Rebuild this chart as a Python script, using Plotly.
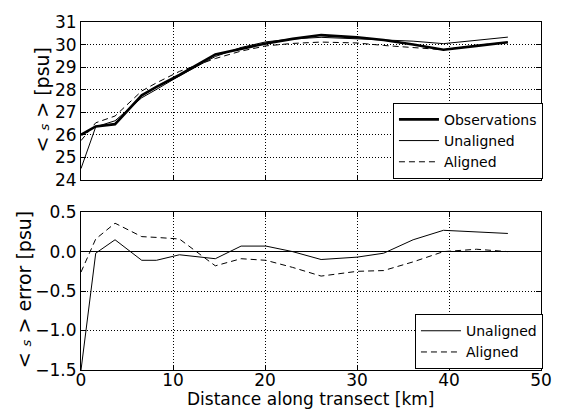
import plotly.graph_objects as go
from plotly.subplots import make_subplots

# Data
distance_km = [0, 1.6, 3.7, 6.6, 8.2, 10.7, 14.6, 17.4, 20.1, 23.0, 26.1, 30.0, 32.9, 36.1, 39.4, 43.0, 46.4]
obs_s = [26.00, 26.37, 26.47, 27.75, 28.12, 28.65, 29.56, 29.80, 30.05, 30.25, 30.42, 30.32, 30.20, 30.00, 29.77, 29.94, 30.10]
unaligned_s = [24.50, 26.35, 26.62, 27.64, 28.01, 28.61, 29.47, 29.87, 30.12, 30.25, 30.32, 30.25, 30.18, 30.15, 30.04, 30.19, 30.33]
aligned_s = [25.74, 26.53, 26.83, 27.94, 28.30, 28.81, 29.38, 29.71, 29.94, 30.05, 30.11, 30.07, 29.96, 29.87, 29.77, 29.97, 30.10]
unaligned_err = [-1.50, -0.02, 0.15, -0.11, -0.11, -0.04, -0.09, 0.07, 0.07, 0.00, -0.10, -0.07, -0.02, 0.15, 0.27, 0.25, 0.23]
aligned_err = [-0.26, 0.16, 0.36, 0.19, 0.18, 0.16, -0.18, -0.09, -0.11, -0.20, -0.31, -0.25, -0.24, -0.13, 0.00, 0.03, 0.00]

FONT = "DejaVu Sans"
W, H = 564, 410
L, R, T, B = 81, 14, 21, 40
ph = H - T - B
pw = W - L - R
top_lo = (H - B - 179.3) / ph
bot_hi = (H - B - 211.7) / ph

fig = make_subplots(rows=2, cols=1, shared_xaxes=False)

fig.add_trace(go.Scatter(x=distance_km, y=obs_s, mode="lines", name="Observations",
                         line=dict(color="black", width=2.6), legend="legend"), row=1, col=1)
fig.add_trace(go.Scatter(x=distance_km, y=unaligned_s, mode="lines", name="Unaligned",
                         line=dict(color="black", width=1), legend="legend"), row=1, col=1)
fig.add_trace(go.Scatter(x=distance_km, y=aligned_s, mode="lines", name="Aligned",
                         line=dict(color="black", width=1, dash="6px,4px"), legend="legend"), row=1, col=1)

fig.add_trace(go.Scatter(x=distance_km, y=unaligned_err, mode="lines", name="Unaligned",
                         line=dict(color="black", width=1), legend="legend2"), row=2, col=1)
fig.add_trace(go.Scatter(x=distance_km, y=aligned_err, mode="lines", name="Aligned",
                         line=dict(color="black", width=1, dash="6px,4px"), legend="legend2"), row=2, col=1)

axis_common = dict(
    showline=True, linecolor="black", linewidth=1, mirror="ticks",
    ticks="inside", ticklen=5, tickcolor="black",
    showgrid=True, gridcolor="black", gridwidth=1, griddash="1px,2px",
    tickfont=dict(family=FONT, size=17, color="black"),
    zeroline=False,
)

fig.update_xaxes(range=[0, 50], dtick=10, **axis_common)
fig.update_xaxes(showticklabels=False, row=1, col=1)
fig.update_xaxes(ticklabelstandoff=-5, row=2, col=1)
fig.update_yaxes(range=[24, 31], dtick=1, **axis_common, row=1, col=1)
fig.update_yaxes(range=[-1.5, 0.5], dtick=0.5, tickformat=".1f", **axis_common, row=2, col=1)
fig.update_yaxes(zeroline=True, zerolinecolor="black", zerolinewidth=1, row=2, col=1)

fig.update_layout(
    xaxis=dict(domain=[0, 1], anchor="y"),
    yaxis=dict(domain=[top_lo, 1.0]),
    xaxis2=dict(domain=[0, 1], anchor="y2"),
    yaxis2=dict(domain=[0.0, bot_hi]),
)

legend_common = dict(
    bgcolor="white", bordercolor="black", borderwidth=1,
    font=dict(family=FONT, size=14, color="black"),
    xanchor="right", yanchor="top", tracegroupgap=0, itemwidth=40,
)
fig.update_layout(
    legend=dict(x=(552 - L) / pw, y=(H - B - 102) / ph, **legend_common),
    legend2=dict(x=(552 - L) / pw, y=(H - B - 314) / ph, **legend_common),
)

ann_font = dict(family=FONT, size=19, color="black")
s_sym = "&lt; <span style='font-size:13px'><i>s</i></span> &gt;"
fig.add_annotation(text=s_sym + " [psu]", xref="paper", yref="paper",
                   x=(41 - L) / pw, y=(H - B - 99) / ph, textangle=-90,
                   showarrow=False, xanchor="center", yanchor="middle", font=ann_font)
fig.add_annotation(text=s_sym + " error [psu]", xref="paper", yref="paper",
                   x=(23 - L) / pw, y=(H - B - 289) / ph, textangle=-90,
                   showarrow=False, xanchor="center", yanchor="middle", font=ann_font)
fig.add_annotation(text="Distance along transect [km]", xref="paper", yref="paper",
                   x=0.5, y=0, yshift=-(410 - 370), borderpad=0,
                   showarrow=False, xanchor="center", yanchor="bottom",
                   font=dict(family=FONT, size=17, color="black"))

fig.update_layout(
    width=W, height=H,
    margin=dict(l=L, r=R, t=T, b=B),
    paper_bgcolor="white", plot_bgcolor="white",
    font=dict(family=FONT, color="black"),
)

fig.write_html("out.html")
